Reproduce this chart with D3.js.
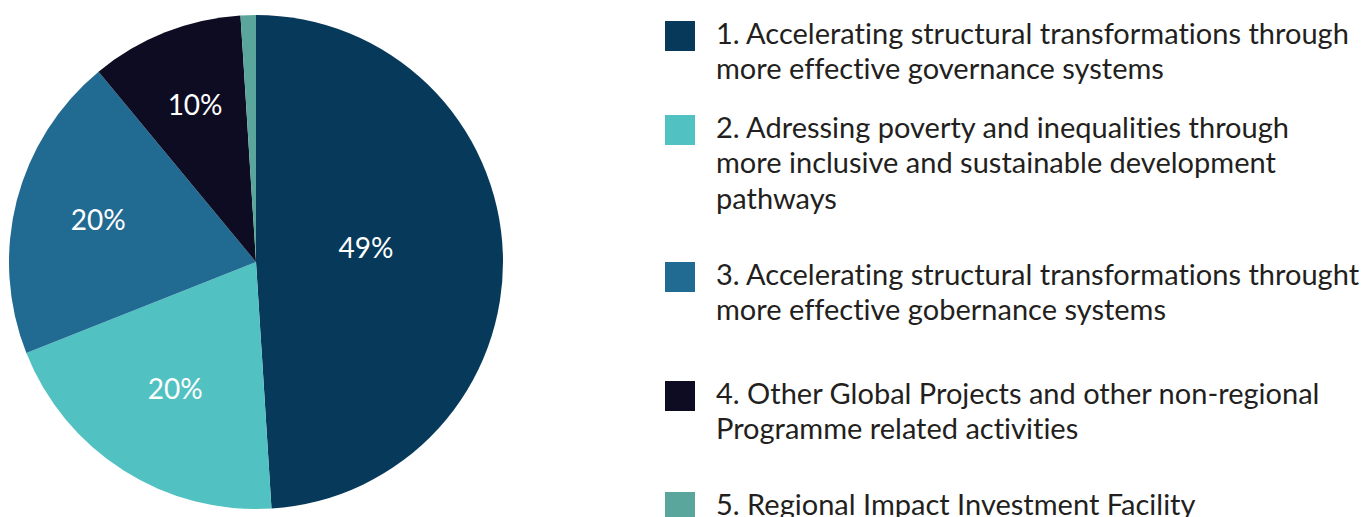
<!DOCTYPE html>
<html><head><meta charset="utf-8">
<script src="https://cdn.jsdelivr.net/npm/d3@7"></script>
<style>html,body{margin:0;padding:0;background:#fff;overflow:hidden} text{font-variant-ligatures:none;font-feature-settings:"liga" 0}</style>
</head><body>
<svg id="chart" width="1363" height="517"></svg>
<script>
const categories = [
  ["1. Accelerating structural transformations through", "more effective governance systems"],
  ["2. Adressing poverty and inequalities through", "more inclusive and sustainable development", "pathways"],
  ["3. Accelerating structural transformations throught", "more effective gobernance systems"],
  ["4. Other Global Projects and other non-regional", "Programme related activities"],
  ["5. Regional Impact Investment Facility"]
];
const values = [49, 20, 20, 10, 1];
const pctLabels = ["49%", "20%", "20%", "10%", ""];
const colors = ["#073a5a", "#52c1c2", "#216a92", "#0e0c22", "#5aa69c"];

// layout
const cx = 256, cy = 262, R = 247;
const labelRadiusFrac = [0.445, 0.61, 0.66, 0.67, 0.6];
const labelDy = [-11, 0, -2, -3, 0];
const legendBaselines = [44, 138, 285, 404, 515];
const lineH = 35.5;
const fontFam = "Lato, 'Open Sans', sans-serif";

const svg = d3.select("#chart");
const g = svg.append("g").attr("transform", `translate(${cx},${cy})`);
const pie = d3.pie().sort(null).value(d => d);
const arcs = pie(values);
const arc = d3.arc().innerRadius(0).outerRadius(R);

g.selectAll("path.slice").data(arcs).join("path")
  .attr("class", "slice")
  .attr("d", arc)
  .attr("fill", (d, i) => colors[i]);

g.selectAll("text.pct").data(arcs).join("text")
  .attr("class", "pct")
  .attr("transform", (d, i) => {
    const r = R * labelRadiusFrac[i];
    const c = d3.arc().innerRadius(r).outerRadius(r).centroid(d);
    return `translate(${c[0]},${c[1] + labelDy[i]})`;
  })
  .attr("text-anchor", "middle")
  .attr("dy", "0.36em")
  .attr("fill", "#fff")
  .attr("font-family", fontFam)
  .attr("font-size", 28)
  .text((d, i) => pctLabels[i]);

// legend
const lg = svg.append("g");
const textX = 716;
const items = lg.selectAll("g.item").data(categories).join("g").attr("class", "item");
items.append("rect")
  .attr("x", 665).attr("y", (d, i) => legendBaselines[i] - 23)
  .attr("width", 30).attr("height", 30)
  .attr("fill", (d, i) => colors[i]);
const tg = lg.append("g");
categories.forEach((lines, i) => {
  lines.forEach((ln, j) => {
    tg.append("text")
      .attr("x", 0)
      .attr("y", legendBaselines[i] + j * lineH)
      .attr("fill", "#231f20")
      .attr("font-family", fontFam)
      .attr("font-size", 29)
      .text(ln);
  });
});
const first = tg.select("text").node();
const w = first.getComputedTextLength();
const sx = 633 / w;
tg.attr("transform", `translate(${textX},0) scale(${sx},1)`);
</script>
</body></html>
